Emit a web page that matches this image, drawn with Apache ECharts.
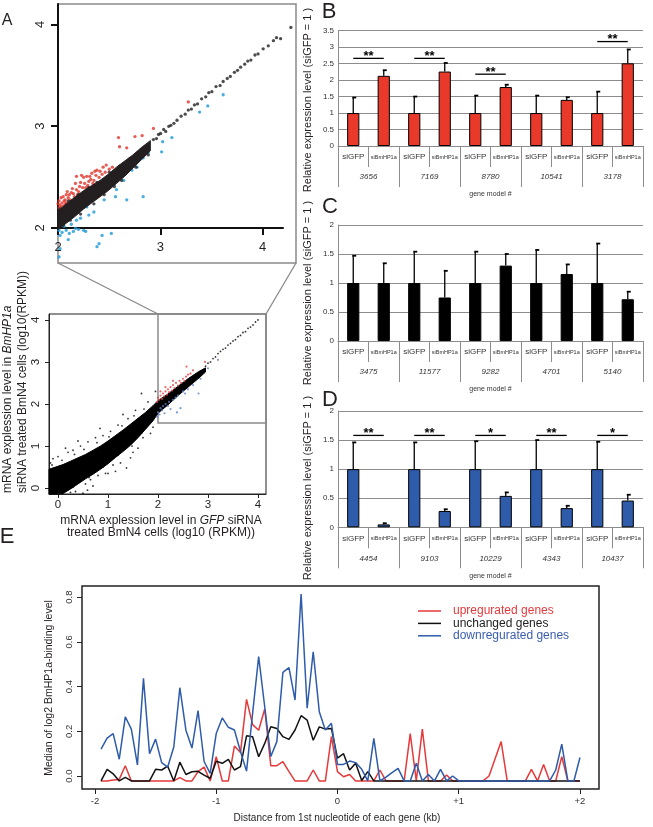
<!DOCTYPE html>
<html><head><meta charset="utf-8">
<script src="https://cdn.jsdelivr.net/npm/echarts@6/dist/echarts.min.js"></script>
<style>html,body{margin:0;padding:0;background:#fff}#c{width:653px;height:827px}</style>
</head><body><div id="c"></div><script>
// ---------- Panel A (zoomed scatter, log10 RPKM 2..4.3) ----------
const zoomBandX  = [2.0, 2.08, 2.17, 2.25, 2.33, 2.41, 2.49, 2.57, 2.65, 2.73, 2.81, 2.9];
const zoomBandLo = [1.99, 2.05, 2.12, 2.19, 2.25, 2.31, 2.37, 2.44, 2.51, 2.59, 2.67, 2.76];
const zoomBandHi = [2.17, 2.24, 2.31, 2.37, 2.42, 2.47, 2.53, 2.6, 2.66, 2.72, 2.79, 2.86];
const zoomBlack = [[2.02,2.19],[2.05,2.03],[2.1,2.27],[2.12,2.08],[2.2,2.33],[2.22,2.14],[2.3,2.4],[2.35,2.24],[2.38,2.45],[2.45,2.33],[2.5,2.55],[2.55,2.41],[2.6,2.61],[2.62,2.47],[2.7,2.68],[2.76,2.6],[2.85,2.8],[2.88,2.72],
  [2.93,2.87],[2.96,2.88],[2.98,2.92],[3.0,2.93],[3.03,2.97],[3.05,2.95],[3.08,3.0],[3.1,3.01],[3.13,3.03],[3.16,3.06],[3.2,3.1],[3.24,3.12],[3.27,3.16],[3.3,3.17],[3.33,3.21],[3.36,3.22],[3.4,3.27],[3.44,3.29],[3.47,3.33],[3.5,3.34],[3.54,3.39],[3.58,3.4],[3.61,3.44],[3.65,3.47],[3.68,3.49],[3.72,3.53],[3.75,3.55],[3.78,3.58],[3.82,3.61],[3.85,3.64],[3.88,3.65],[3.92,3.7],[3.95,3.71],[4.0,3.76],[4.05,3.79],[4.1,3.84],[4.13,3.87],[4.17,3.86],[4.27,3.97]];
const zoomRed = [[2.01,2.2],[2.02,2.23],[2.03,2.21],[2.04,2.25],[2.05,2.22],[2.06,2.27],[2.07,2.28],[2.08,2.25],[2.08,2.33],[2.1,2.3],[2.12,2.28],[2.13,2.35],[2.15,2.34],[2.16,2.31],[2.18,2.51],[2.18,2.38],[2.2,2.36],[2.21,2.41],[2.23,2.52],[2.24,2.4],[2.26,2.44],[2.28,2.51],[2.29,2.42],[2.3,2.46],[2.32,2.48],[2.33,2.54],[2.35,2.47],[2.37,2.52],[2.38,2.57],[2.4,2.5],[2.41,2.56],[2.43,2.53],[2.44,2.6],[2.46,2.55],[2.47,2.62],[2.5,2.58],[2.53,2.6],[2.59,2.89],[2.6,2.8],[2.67,2.79],[2.75,2.9],[2.82,2.91],[2.93,2.98],[3.27,3.24],
  [2.0,2.24],[2.01,2.27],[2.03,2.3],[2.05,2.31],[2.07,2.24],[2.09,2.36],[2.11,2.33],[2.14,2.39],[2.17,2.44],[2.19,2.33],[2.22,2.45],[2.25,2.5],[2.27,2.4],[2.31,2.51],[2.34,2.44],[2.36,2.56]];
const zoomBlue = [[2.01,1.98],[2.02,1.93],[2.01,1.72],[2.02,1.8],[2.04,1.96],[2.06,2.02],[2.08,1.98],[2.1,1.89],[2.11,1.95],[2.13,2.04],[2.15,1.97],[2.17,2.0],[2.18,2.08],[2.2,1.99],[2.22,2.1],[2.25,1.98],[2.27,1.97],[2.28,2.21],[2.3,2.13],[2.34,2.28],[2.35,2.16],[2.38,1.82],[2.4,1.85],[2.43,1.93],[2.45,2.28],[2.51,2.44],[2.52,1.95],[2.56,2.31],[2.57,2.38],[2.64,2.47],[2.67,2.28],[2.72,2.57],[2.77,2.6],[2.83,2.31],[2.83,2.69],[2.88,2.74],[3.01,2.75],[3.02,2.85],[3.11,2.89],[3.38,3.14],[3.46,3.2],[3.61,3.31]];
const zoomTicks = [2, 3, 4];

// ---------- Panel A (overview scatter) ----------
const ovBandX  = [-0.18, -0.05, 0.1, 0.25, 0.4, 0.55, 0.7, 0.85, 1.0, 1.15, 1.3, 1.45, 1.6, 1.75, 1.9, 2.0, 2.2, 2.4, 2.6, 2.8, 2.95];
const ovBandLo = [-0.14, -0.14, -0.13, -0.02, 0.1, 0.22, 0.33, 0.45, 0.58, 0.73, 0.87, 1.02, 1.2, 1.4, 1.6, 1.78, 1.98, 2.2, 2.4, 2.6, 2.76];
const ovBandHi = [0.45, 0.5, 0.56, 0.64, 0.72, 0.8, 0.9, 1.0, 1.12, 1.25, 1.38, 1.52, 1.66, 1.8, 1.96, 2.08, 2.24, 2.42, 2.6, 2.76, 2.86];
const ovBlack = [[2.95,2.9],[3.0,2.97],[3.05,3.0],[3.1,3.08],[3.15,3.12],[3.2,3.2],[3.25,3.25],[3.3,3.3],[3.35,3.33],[3.4,3.4],[3.45,3.44],[3.5,3.5],[3.55,3.53],[3.6,3.6],[3.65,3.63],[3.7,3.7],[3.75,3.72],[3.8,3.8],[3.85,3.83],[3.9,3.88],[3.95,3.95],[4.0,4.0],
  [-0.15,0.6],[-0.1,0.7],[0.0,0.75],[0.05,-0.1],[0.2,0.85],[0.3,0.9],[0.35,-0.08],[0.45,1.0],[0.55,0.1],[0.6,1.1],[0.65,0.2],[0.75,1.2],[0.8,0.3],[0.9,1.25],[0.95,0.35],[1.05,1.35],[1.1,0.55],[1.2,1.5],[1.25,0.6],[1.37,0.48],[1.4,1.65],[1.5,0.85],[1.55,1.85],[1.6,0.95],[1.67,2.25],[1.7,1.2],[1.8,2.05],[1.85,1.3],[1.95,2.3],[0.5,-0.12],[0.15,0.95],[0.7,0.05],[1.0,0.35],[1.3,1.75],[0.4,1.12],[1.15,0.4],[0.25,-0.1],[1.45,0.72],[1.75,1.45],[0.84,1.42],[1.9,1.45],[0.59,-0.05],
  [-0.12,0.55],[0.08,0.66],[0.33,0.8],[0.52,0.92],[0.78,1.08],[1.02,1.22],[1.28,1.48],[1.52,1.72],[1.72,1.88],[0.3,0.02],[0.62,0.25],[0.9,0.5],[1.2,0.78],[1.48,1.0],[1.68,1.32]];
const ovRed = [[1.98,2.05],[2.0,2.15],[2.02,2.1],[2.05,2.2],[2.08,2.12],[2.1,2.25],[2.12,2.18],[2.15,2.3],[2.18,2.22],[2.2,2.35],[2.22,2.28],[2.25,2.4],[2.28,2.32],[2.3,2.45],[2.33,2.38],[2.36,2.5],[2.4,2.44],[2.43,2.55],[2.46,2.5],[2.5,2.6],[2.53,2.55],[2.56,2.65],[2.6,2.7],[2.65,2.72],[2.57,2.89],[2.7,2.8],[2.94,3.0],[2.05,2.3],[2.15,2.4],[2.3,2.55]];
const ovBlue = [[1.98,1.7],[2.0,1.8],[2.03,1.75],[2.05,1.9],[2.08,1.85],[2.1,1.95],[2.13,1.78],[2.15,2.0],[2.2,1.95],[2.22,2.05],[2.25,1.88],[2.3,2.1],[2.35,2.15],[2.38,1.8],[2.4,2.2],[2.45,1.9],[2.5,2.3],[2.54,2.25],[2.6,2.35],[2.7,2.45],[2.81,2.25],[2.85,2.6],[3.0,2.85],[3.2,3.05]];
const ovTicks = [0, 1, 2, 3, 4];
const zoomRegion = {x0: 2, x1: 4.16, y0: 1.55, y1: 4.14};

// ---------- Panels B, C, D (qRT-PCR bars) ----------
const barCats = ['siGFP', 'siBmHP1a'];
const genesB = ['3656', '7169', '8780', '10541', '3178'];
const bSiGFP = [1, 1, 1, 1, 1];
const bSiGFPErr = [1.47, 1.5, 1.53, 1.53, 1.65];
const bSiBm = [2.13, 2.26, 1.79, 1.4, 2.51];
const bSiBmErr = [2.3, 2.52, 1.86, 1.48, 2.93];
const bSigGroups = [0, 1, 2, 4];
const bSigLevels = [2.66, 2.66, 2.18, 3.17];
const bSigMarks = ['**', '**', '**', '**'];

const genesC = ['3475', '11577', '9282', '4701', '5140'];
const cSiGFP = [1, 1, 1, 1, 1];
const cSiGFPErr = [1.47, 1.54, 1.54, 1.57, 1.68];
const cSiBm = [1.0, 0.75, 1.3, 1.155, 0.72];
const cSiBmErr = [1.34, 1.21, 1.5, 1.32, 0.85];

const genesD = ['4454', '9103', '10229', '4343', '10437'];
const dSiGFP = [1, 1, 1, 1, 1];
const dSiGFPErr = [1.46, 1.46, 1.48, 1.5, 1.47];
const dSiBm = [0.05, 0.28, 0.54, 0.33, 0.46];
const dSiBmErr = [0.07, 0.31, 0.6, 0.37, 0.56];
const dSigGroups = [0, 1, 2, 3, 4];
const dSigLevels = [1.58, 1.58, 1.58, 1.58, 1.58];
const dSigMarks = ['**', '**', '*', '**', '*'];

// ---------- Panel E (binding profile) ----------
const eX = [-1.95,-1.9,-1.85,-1.8,-1.75,-1.7,-1.65,-1.6,-1.55,-1.5,-1.45,-1.4,-1.35,-1.3,-1.25,-1.2,-1.15,-1.1,-1.05,-1,-0.95,-0.9,-0.85,-0.8,-0.75,-0.7,-0.65,-0.6,-0.55,-0.5,-0.45,-0.4,-0.35,-0.3,-0.25,-0.2,-0.15,-0.1,-0.05,0,0.05,0.1,0.15,0.2,0.25,0.3,0.35,0.4,0.45,0.5,0.55,0.6,0.65,0.7,0.75,0.8,0.85,0.9,0.95,1,1.05,1.1,1.15,1.2,1.25,1.3,1.35,1.4,1.45,1.5,1.55,1.6,1.65,1.7,1.75,1.8,1.85,1.9,1.95,2];
const eUp = [-0.022,-0.022,-0.018,-0.015,0.046,-0.022,-0.022,-0.022,-0.022,-0.022,
  -0.022,-0.022,-0.022,-0.007,-0.022,-0.022,0.02,0.04,-0.022,0.087,
  -0.022,-0.022,0.134,0.105,0.343,0.23,0.205,0.3,0.046,0.046,
  0.064,0.02,-0.022,-0.022,-0.022,0.027,-0.022,-0.022,0.176,0.02,
  -0.003,0.007,-0.022,-0.022,-0.022,-0.022,0.027,-0.022,-0.022,-0.022,
  -0.022,0.19,-0.022,0.21,-0.022,-0.022,-0.022,0.005,-0.022,-0.022,
  -0.022,-0.022,-0.022,-0.022,0.0,0.077,0.154,-0.022,-0.022,-0.022,
  -0.022,0.03,-0.022,0.052,-0.022,-0.022,0.087,-0.022,-0.022,-0.022];
const eUnchanged = [-0.022,0.03,0.01,-0.022,-0.006,-0.022,-0.022,-0.022,-0.022,0.03,
  0.027,0.044,-0.022,0.062,0.007,0.019,0.021,0.004,-0.01,0.066,
  0.057,0.075,0.027,0.042,0.18,0.176,0.086,0.146,0.22,0.213,
  0.176,0.164,0.206,0.27,0.25,0.16,0.22,0.21,0.213,0.08,
  0.1,0.027,0.057,-0.02,0.02,-0.022,-0.022,-0.022,-0.022,-0.022,
  -0.022,-0.022,-0.022,-0.022,-0.022,-0.022,-0.022,-0.022,-0.022,-0.022,
  -0.022,-0.022,-0.022,-0.022,-0.022,-0.022,-0.022,-0.022,-0.022,-0.022,
  -0.022,-0.022,-0.022,-0.022,-0.022,-0.022,-0.022,-0.022,-0.022,-0.022];
const eDown = [0.12,0.17,0.19,0.075,0.265,0.21,0.05,0.437,0.1,0.165,
  0.06,0.04,0.13,0.395,0.205,0.125,0.293,0.065,0.012,0.19,
  0.26,0.218,0.206,0.11,0.022,0.28,0.534,0.31,0.087,0.154,
  0.464,0.485,0.34,0.814,0.303,0.556,0.288,0.206,0.236,0.052,
  0.052,0.067,0.06,0.03,-0.022,0.168,-0.022,-0.005,0.015,0.034,
  -0.022,-0.022,0.057,-0.022,0.007,-0.022,0.03,-0.022,0.0,-0.022,
  -0.022,-0.022,-0.022,-0.022,-0.022,-0.022,-0.022,-0.022,-0.022,-0.022,
  -0.022,-0.022,-0.022,-0.022,-0.022,0.027,0.143,-0.022,-0.022,0.083];
const eXTicks = [-2, -1, 0, 1, 2];
const eYTicks = [0, 0.2, 0.4, 0.6, 0.8];
const eNames = ['upregurated genes', 'unchanged genes', 'downregurated genes'];

// ---------- helpers ----------
const FF = '"Liberation Sans", Arial, Helvetica, sans-serif';
const TXT = '#231f20';
function pairs(xs, ys) { return xs.map((x, i) => [x, ys[i]]); }
function interleave(a, b) { const out = []; a.forEach((v, i) => { out.push(v, b[i]); }); return out; }
function catList(n) { const out = []; for (let i = 0; i < n; i++) out.push(barCats[0], barCats[1]); return out; }

// dense core of a scatter cloud: one outline polygon built from its upper and lower edges
function bandSeries(xi, yi, X, LO, HI, color) {
  const data = X.map((x, i) => [x, LO[i], HI[i]]);
  return {
    type: 'custom', xAxisIndex: xi, yAxisIndex: yi, data, silent: true, z: 3,
    encode: {x: 0, y: [1, 2]},
    renderItem(params, api) {
      if (params.dataIndex !== 0) return null;
      const top = data.map(d => api.coord([d[0], d[2]]));
      const bot = data.map(d => api.coord([d[0], d[1]])).reverse();
      return {type: 'polygon', shape: {points: top.concat(bot)}, style: {fill: color, stroke: color, lineWidth: 1}};
    }
  };
}
function errSeries(xi, yi, vals, errs) {
  const data = vals.map((v, i) => [i, v, errs[i]]);
  return {
    type: 'custom', xAxisIndex: xi, yAxisIndex: yi, data, silent: true, z: 5,
    encode: {x: 0, y: [1, 2]},
    renderItem(params, api) {
      const a = api.coord([api.value(0), api.value(1)]);
      const b = api.coord([api.value(0), api.value(2)]);
      return {type: 'group', children: [
        {type: 'line', shape: {x1: a[0], y1: a[1], x2: b[0], y2: b[1]}, style: {stroke: '#000', lineWidth: 1.3}},
        {type: 'line', shape: {x1: b[0] - 1, y1: b[1], x2: b[0] + 3, y2: b[1]}, style: {stroke: '#000', lineWidth: 1.8}}
      ]};
    }
  };
}
function sigSeries(xi, yi, groups, levels, marks) {
  const data = groups.map((g, i) => [2 * g, 2 * g + 1, levels[i]]);
  return {
    type: 'custom', xAxisIndex: xi, yAxisIndex: yi, data, silent: true, z: 6,
    encode: {x: [0, 1], y: 2},
    renderItem(params, api) {
      const a = api.coord([api.value(0), api.value(2)]);
      const b = api.coord([api.value(1), api.value(2)]);
      return {type: 'group', children: [
        {type: 'line', shape: {x1: a[0], y1: a[1], x2: b[0], y2: b[1]}, style: {stroke: '#000', lineWidth: 1.3}},
        {type: 'text', x: (a[0] + b[0]) / 2, y: a[1] - 2, style: {text: marks[params.dataIndex], fill: '#000',
          fontSize: 13, fontWeight: 'bold', fontFamily: FF, align: 'center', verticalAlign: 'middle', textAlign: 'center', textVerticalAlign: 'middle'}}
      ]};
    }
  };
}
function barX(grid, n) {
  return {type: 'category', gridIndex: grid, data: catList(n), position: 'bottom', boundaryGap: true,
    axisLine: {show: true, onZero: false, lineStyle: {color: '#8c8c8c', width: 1}},
    axisTick: {show: true, interval: 0, length: 21, lineStyle: {color: '#8c8c8c', width: 1}},
    axisLabel: {interval: 0, margin: 6, formatter: v => v === 'siGFP' ? '{a|siGFP}' : '{b|siBmHP1a}',
      rich: {a: {fontSize: 8, lineHeight: 10, color: '#333', fontFamily: FF}, b: {fontSize: 5.5, lineHeight: 10, color: '#333', fontFamily: FF}}},
    splitLine: {show: false}};
}
function geneX(grid, genes) {
  return {type: 'category', gridIndex: grid, data: genes, position: 'bottom', boundaryGap: true,
    axisLine: {show: false}, axisTick: {show: true, interval: 0, length: 41, lineStyle: {color: '#8c8c8c', width: 1}},
    axisLabel: {interval: 0, margin: 27, fontSize: 8, fontStyle: 'italic', color: '#333', fontFamily: FF},
    name: 'gene model #', nameLocation: 'middle', nameGap: 45, nameTextStyle: {fontSize: 7, color: '#333', fontFamily: FF},
    splitLine: {show: false}};
}
function barY(grid, max) {
  return {type: 'value', gridIndex: grid, min: 0, max: max, interval: 0.5,
    axisLine: {show: true, lineStyle: {color: '#8c8c8c', width: 1}}, axisTick: {show: false},
    axisLabel: {fontSize: 8, color: '#333', margin: 4, fontFamily: FF},
    splitLine: {show: true, lineStyle: {color: '#8c8c8c', width: 1}}};
}

const chart = echarts.init(document.getElementById('c'), null, {renderer: 'canvas', width: 653, height: 827});

const option = {
  animation: false,
  backgroundColor: '#fff',
  textStyle: {fontFamily: FF},
  grid: [
    {left: 58, top: 4, width: 238, height: 259, show: true, borderColor: '#8a8a8a', borderWidth: 1.5, backgroundColor: 'transparent'},
    {left: 58, top: 4, width: 225, height: 224},
    {left: 49, top: 314, width: 217, height: 180, show: true, borderColor: '#222', borderWidth: 1, backgroundColor: 'transparent'},
    {left: 338, top: 30.7, width: 305, height: 115.3},
    {left: 338, top: 225, width: 305, height: 116},
    {left: 338, top: 411, width: 305, height: 116.3},
    {left: 82, top: 586, width: 517, height: 203, show: true, borderColor: '#222', borderWidth: 1.5, backgroundColor: 'transparent'}
  ],
  xAxis: [
    {type: 'value', gridIndex: 0, min: 2, max: 4.32, show: false},
    {type: 'value', gridIndex: 1, min: 2, max: 4.2,
      axisLine: {show: true, onZero: false, lineStyle: {color: '#111', width: 2}},
      axisTick: {show: true, length: 7, customValues: zoomTicks, lineStyle: {color: '#111', width: 2}},
      axisLabel: {customValues: zoomTicks, fontSize: 13, margin: 13, color: TXT}, splitLine: {show: false}},
    {type: 'value', gridIndex: 2, min: -0.18, max: 4.16,
      axisLine: {show: true, onZero: false, lineStyle: {color: '#222', width: 1}},
      axisTick: {show: true, length: 4, customValues: ovTicks, lineStyle: {color: '#222'}},
      axisLabel: {customValues: ovTicks, fontSize: 11.5, margin: 5, color: TXT}, splitLine: {show: false}},
    barX(3, 5), geneX(3, genesB),
    barX(4, 5), geneX(4, genesC),
    barX(5, 5), geneX(5, genesD),
    {type: 'value', gridIndex: 6, min: -2.107, max: 2.157,
      axisLine: {show: false, onZero: false},
      axisTick: {show: true, length: 5, customValues: eXTicks, lineStyle: {color: '#222', width: 1}},
      axisLabel: {customValues: eXTicks, fontSize: 9.5, margin: 7, color: '#333', formatter: v => v > 0 ? '+' + v : String(v)},
      splitLine: {show: false}}
  ],
  yAxis: [
    {type: 'value', gridIndex: 0, min: 1.66, max: 4.2, show: false},
    {type: 'value', gridIndex: 1, min: 2, max: 4.2,
      axisLine: {show: true, onZero: false, lineStyle: {color: '#111', width: 2}},
      axisTick: {show: true, length: 7, customValues: zoomTicks, lineStyle: {color: '#111', width: 2}},
      axisLabel: {customValues: zoomTicks, fontSize: 13, margin: 11, rotate: 90, color: TXT}, splitLine: {show: false}},
    {type: 'value', gridIndex: 2, min: -0.14, max: 4.14,
      axisLine: {show: true, onZero: false, lineStyle: {color: '#222', width: 1}},
      axisTick: {show: true, length: 4, customValues: ovTicks, lineStyle: {color: '#222'}},
      axisLabel: {customValues: ovTicks, fontSize: 11.5, margin: 7, rotate: 90, color: TXT}, splitLine: {show: false}},
    barY(3, 3.5), barY(4, 2), barY(5, 2),
    {type: 'value', gridIndex: 6, min: -0.058, max: 0.85,
      axisLine: {show: false, onZero: false},
      axisTick: {show: true, length: 5, customValues: eYTicks, lineStyle: {color: '#222', width: 1}},
      axisLabel: {customValues: eYTicks, fontSize: 9.5, margin: 8, rotate: 90, color: '#333', formatter: v => v.toFixed(1)},
      splitLine: {show: false}}
  ],
  legend: {
    orient: 'vertical', left: 418, top: 605, padding: 0, itemWidth: 23, itemHeight: 1.5, itemGap: 0.4, selectedMode: false,
    icon: 'rect',
    textStyle: {fontSize: 12, lineHeight: 12, fontFamily: FF, padding: [0, 0, 0, 7]},
    data: [
      {name: eNames[0], textStyle: {color: '#e5393b'}},
      {name: eNames[1], textStyle: {color: '#222'}},
      {name: eNames[2], textStyle: {color: '#3a5dae'}}
    ]
  },
  series: [
    // A zoom
    {type: 'scatter', xAxisIndex: 0, yAxisIndex: 0, data: zoomRed, symbolSize: 3.3, itemStyle: {color: '#e0342c'}, silent: true, z: 2},
    {type: 'scatter', xAxisIndex: 0, yAxisIndex: 0, data: zoomBlue, symbolSize: 3.3, itemStyle: {color: '#1b9ad6'}, silent: true, z: 2},
    bandSeries(0, 0, zoomBandX, zoomBandLo, zoomBandHi, '#231f20'),
    {type: 'scatter', xAxisIndex: 0, yAxisIndex: 0, data: zoomBlack, symbolSize: 3.3, itemStyle: {color: '#231f20'}, silent: true, z: 4},
    // A overview
    bandSeries(2, 2, ovBandX, ovBandLo, ovBandHi, '#000'),
    {type: 'scatter', xAxisIndex: 2, yAxisIndex: 2, data: ovBlack, symbolSize: 1.8, itemStyle: {color: '#000'}, silent: true, z: 4},
    {type: 'scatter', xAxisIndex: 2, yAxisIndex: 2, data: ovRed, symbolSize: 2.2, itemStyle: {color: '#e64646'}, silent: true, z: 5},
    {type: 'scatter', xAxisIndex: 2, yAxisIndex: 2, data: ovBlue, symbolSize: 2.2, itemStyle: {color: '#5b80c4'}, silent: true, z: 5},
    // B
    {type: 'bar', xAxisIndex: 3, yAxisIndex: 3, data: interleave(bSiGFP, bSiBm), barWidth: '40%', silent: true,
      itemStyle: {color: '#e8392b', borderColor: '#000', borderWidth: 1}},
    errSeries(3, 3, interleave(bSiGFP, bSiBm), interleave(bSiGFPErr, bSiBmErr)),
    sigSeries(3, 3, bSigGroups, bSigLevels, bSigMarks),
    // C
    {type: 'bar', xAxisIndex: 5, yAxisIndex: 4, data: interleave(cSiGFP, cSiBm), barWidth: '40%', silent: true,
      itemStyle: {color: '#000', borderColor: '#000', borderWidth: 1}},
    errSeries(5, 4, interleave(cSiGFP, cSiBm), interleave(cSiGFPErr, cSiBmErr)),
    // D
    {type: 'bar', xAxisIndex: 7, yAxisIndex: 5, data: interleave(dSiGFP, dSiBm), barWidth: '40%', silent: true,
      itemStyle: {color: '#2f5caa', borderColor: '#000', borderWidth: 1}},
    errSeries(7, 5, interleave(dSiGFP, dSiBm), interleave(dSiGFPErr, dSiBmErr)),
    sigSeries(7, 5, dSigGroups, dSigLevels, dSigMarks),
    // E
    {type: 'line', name: eNames[0], xAxisIndex: 9, yAxisIndex: 6, data: pairs(eX, eUp), symbol: 'none', silent: true,
      lineStyle: {color: '#e5393b', width: 1.5}, itemStyle: {color: '#e5393b'}, z: 3},
    {type: 'line', name: eNames[1], xAxisIndex: 9, yAxisIndex: 6, data: pairs(eX, eUnchanged), symbol: 'none', silent: true,
      lineStyle: {color: '#111', width: 1.5}, itemStyle: {color: '#111'}, z: 4},
    {type: 'line', name: eNames[2], xAxisIndex: 9, yAxisIndex: 6, data: pairs(eX, eDown), symbol: 'none', silent: true,
      lineStyle: {color: '#2f5caa', width: 1.5}, itemStyle: {color: '#2f5caa'}, z: 5}
  ]
};
chart.setOption(option);

// ---------- frames, titles, panel letters ----------
const p0 = chart.convertToPixel({gridIndex: 2}, [zoomRegion.x0, zoomRegion.y1]);
const p1 = chart.convertToPixel({gridIndex: 2}, [zoomRegion.x1, zoomRegion.y0]);
const zb = chart.getModel().getComponent('grid', 0).coordinateSystem.getRect();
function txt(x, y, text, size, rich) {
  return {type: 'text', x, y, silent: true, style: {text, fontSize: size, fontFamily: FF, fill: TXT, rich: rich || {},
    align: 'center', verticalAlign: 'middle', textAlign: 'center', textVerticalAlign: 'middle'}};
}
function rtxt(x, y, text, size, rich, align) {
  return {type: 'text', x, y, rotation: Math.PI / 2, silent: true,
    style: {text, fontSize: size, fontFamily: FF, fill: TXT, rich: rich || {}, align: align || 'center', textAlign: align || 'center',
      verticalAlign: 'middle', textVerticalAlign: 'middle'}};
}
const itRich = {n: {fontSize: 12, fontFamily: FF, fill: TXT, color: TXT}, i: {fontSize: 12, fontFamily: FF, fontStyle: 'italic', fill: TXT, color: TXT}};
chart.setOption({graphic: [
  {type: 'rect', silent: true, shape: {x: p0[0], y: p0[1], width: p1[0] - p0[0], height: p1[1] - p0[1]}, style: {fill: 'none', stroke: '#8a8a8a', lineWidth: 1.5}},
  {type: 'line', silent: true, shape: {x1: zb.x, y1: zb.y + zb.height, x2: p0[0], y2: p0[1]}, style: {stroke: '#8a8a8a', lineWidth: 1.3}},
  {type: 'line', silent: true, shape: {x1: zb.x + zb.width, y1: zb.y + zb.height, x2: p1[0], y2: p0[1]}, style: {stroke: '#8a8a8a', lineWidth: 1.3}},
  txt(7, 21, 'A', 16),
  txt(329, 12, 'B', 22),
  txt(330, 207, 'C', 22),
  txt(330, 400, 'D', 22),
  txt(7, 537, 'E', 22),
  rtxt(8, 493, '{n|mRNA explession level in }{i|BmHP1a}', 12, itRich, 'left'),
  rtxt(23, 493, 'siRNA treated BmN4 cells (log10(RPKM))', 12, null, 'left'),
  txt(161, 521, '{n|mRNA explession level in }{i|GFP}{n| siRNA}', 12, itRich),
  txt(161, 533, 'treated BmN4 cells (log10 (RPKM))', 12),
  rtxt(308, 100, 'Relative expression level (siGFP = 1 )', 11),
  rtxt(308, 293, 'Relative expression level (siGFP = 1 )', 11),
  rtxt(308, 488, 'Relative expression level (siGFP = 1 )', 11),
  rtxt(49, 688, 'Median of log2 BmHP1a-binding level', 10.5),
  txt(337, 818, 'Distance from 1st nucleotide of each gene (kb)', 10)
]});
</script></body></html>
